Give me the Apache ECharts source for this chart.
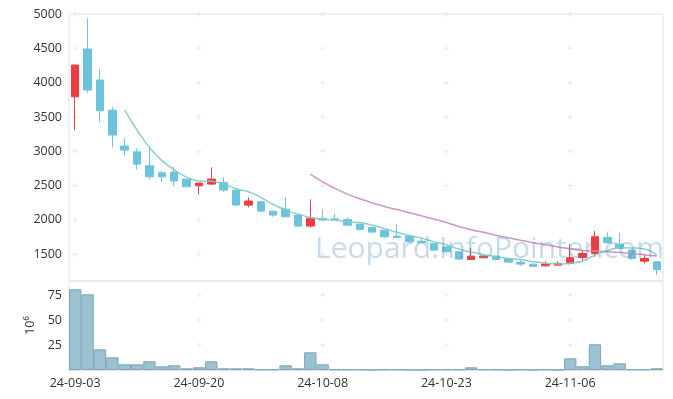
<!DOCTYPE html>
<html>
<head>
<meta charset="utf-8">
<script src="https://cdn.jsdelivr.net/npm/echarts@6/dist/echarts.min.js"></script>
<style>
  html, body { margin: 0; padding: 0; background: #fff; }
  #main { width: 673px; height: 399px; }
</style>
</head>
<body>
<div id="main"></div>
<script>
  // 日期
  var dates = ['24-09-03', '24-09-04', '24-09-05', '24-09-06', '24-09-09', '24-09-10', '24-09-11', '24-09-12',
    '24-09-13', '24-09-19', '24-09-20', '24-09-23', '24-09-24', '24-09-25', '24-09-26', '24-09-27',
    '24-09-30', '24-10-02', '24-10-04', '24-10-07', '24-10-08', '24-10-10', '24-10-11', '24-10-14',
    '24-10-15', '24-10-16', '24-10-17', '24-10-18', '24-10-21', '24-10-22', '24-10-23', '24-10-24',
    '24-10-25', '24-10-28', '24-10-29', '24-10-30', '24-10-31', '24-11-01', '24-11-04', '24-11-05',
    '24-11-06', '24-11-07', '24-11-08', '24-11-11', '24-11-12', '24-11-13', '24-11-14', '24-11-15'];

  // 开盘 / 收盘 / 最低 / 最高
  var opens = [3794, 4490, 4038, 3600, 3076, 2993, 2789, 2686, 2697, 2595, 2497, 2522, 2546, 2434, 2216, 2264,
    2128, 2157, 2070, 1910, 2022, 2016, 2007, 1939, 1890, 1851, 1764, 1764, 1691, 1657, 1608, 1535,
    1424, 1448, 1472, 1438, 1385, 1356, 1331, 1341, 1366, 1453, 1511, 1745, 1647, 1560, 1399, 1390];
  var closes = [4256, 3892, 3590, 3236, 3017, 2813, 2628, 2628, 2566, 2483, 2536, 2595, 2434, 2216, 2274, 2128,
    2070, 2045, 1910, 2026, 1997, 2002, 1924, 1862, 1822, 1754, 1745, 1681, 1672, 1560, 1535, 1429,
    1472, 1472, 1424, 1385, 1356, 1322, 1356, 1366, 1448, 1511, 1754, 1667, 1584, 1438, 1438, 1278];
  var lows = [3309, 3853, 3421, 3057, 2934, 2736, 2590, 2555, 2493, 2483, 2372, 2510, 2410, 2201, 2182, 2128,
    2045, 2045, 1900, 1890, 1990, 2000, 1915, 1862, 1822, 1740, 1745, 1681, 1665, 1560, 1535, 1420,
    1424, 1448, 1410, 1385, 1330, 1322, 1320, 1341, 1350, 1400, 1462, 1660, 1570, 1420, 1366, 1195];
  var highs = [4260, 4937, 4198, 3649, 3188, 3042, 3066, 2711, 2774, 2595, 2540, 2765, 2619, 2434, 2328, 2278,
    2128, 2328, 2070, 2299, 2153, 2085, 2036, 1939, 1890, 1851, 1939, 1764, 1745, 1657, 1620, 1535,
    1593, 1501, 1472, 1438, 1414, 1356, 1395, 1395, 1647, 1560, 1837, 1818, 1808, 1575, 1501, 1390];

  // 成交量 (10^6)
  var volumes = [80.7, 75.7, 20.7, 12.7, 5.7, 5.7, 8.7, 3.7, 4.7, 1.7, 2.7, 8.7, 1.7, 1.7, 1.7, 0.7,
    0.7, 4.7, 1.7, 17.7, 5.7, 0.7, 0.7, 0.7, 0.2, 0.7, 0.7, 0.2, 0.2, 0.7, 0.7, 0.7,
    2.7, 0.7, 0.7, 0.2, 0.7, 0.2, 0.7, 0.2, 11.7, 3.7, 25.7, 4.7, 6.7, 0.7, 0.7, 1.7];

  var priceTicks = [1500, 2000, 2500, 3000, 3500, 4000, 4500, 5000];
  var volumeTicks = [25, 50, 75];

  var candleData = [];
  for (var i = 0; i < dates.length; i++) {
    candleData.push([opens[i], closes[i], lows[i], highs[i]]);
  }

  function calcMA(n) {
    var res = [];
    for (var i = 0; i < closes.length; i++) {
      if (i < n - 1) { res.push('-'); continue; }
      var sum = 0;
      for (var j = 0; j < n; j++) sum += closes[i - j];
      res.push(+(sum / n).toFixed(1));
    }
    return res;
  }

  // 网格交叉点 "+"
  function crossPoints(ticks) {
    var pts = [];
    for (var i = 0; i < dates.length; i += 10) {
      for (var k = 0; k < ticks.length; k++) pts.push([dates[i], ticks[k]]);
    }
    return pts;
  }

  var font = 'Open Sans';
  var plus = 'path://M2,0L3,0L3,2L5,2L5,3L3,3L3,5L2,5L2,3L0,3L0,2L2,2Z';

  var chart = echarts.init(document.getElementById('main'));
  var option = {
    animation: false,
    backgroundColor: '#fff',
    grid: [
      { left: 69, right: 10, top: 14, height: 267, show: true, borderColor: '#e3e3e3', borderWidth: 1 },
      { left: 69, right: 10, top: 281, height: 89, show: true, borderColor: '#e3e3e3', borderWidth: 1 }
    ],
    xAxis: [
      {
        type: 'category', gridIndex: 0, data: dates,
        axisLine: { show: false }, axisTick: { show: false }, axisLabel: { show: false },
        splitLine: { show: false }
      },
      {
        type: 'category', gridIndex: 1, data: dates,
        axisLine: { show: true, lineStyle: { color: '#e3e3e3' } },
        axisTick: { show: false },
        axisLabel: { interval: 9, color: '#333', fontFamily: font, fontSize: 12.5, margin: 7 },
        splitLine: { show: false }
      }
    ],
    yAxis: [
      {
        type: 'value', gridIndex: 0, min: 1110, max: 5000, minInterval: 500, maxInterval: 500,
        axisLine: { show: false }, axisTick: { show: false },
        axisLabel: {
          showMinLabel: false, color: '#333', fontFamily: font, fontSize: 12.5, margin: 7,
          formatter: function (v) { return String(v); }
        },
        splitLine: { show: false }
      },
      {
        type: 'value', gridIndex: 1, min: 0, max: 89, interval: 25,
        name: '10⁶', nameLocation: 'middle', nameRotate: 90, nameGap: 22,
        nameTextStyle: { color: '#333', fontFamily: font, fontSize: 12.5 },
        axisLine: { show: false }, axisTick: { show: false },
        axisLabel: { showMinLabel: false, showMaxLabel: false, color: '#333', fontFamily: font, fontSize: 12.5, margin: 7 },
        splitLine: { show: false }
      }
    ],
    graphic: [{
      type: 'text', left: 315, top: 234, z: 100, silent: true,
      style: {
        text: 'Leopard.InfoPointer.com',
        font: '30px "Open Sans"',
        fill: 'rgba(80,140,190,0.32)'
      }
    }],
    series: [
      {
        type: 'scatter', xAxisIndex: 0, yAxisIndex: 0, data: crossPoints(priceTicks),
        symbol: plus, symbolSize: 5, silent: true, z: 0,
        itemStyle: { color: '#e2e2e2' }
      },
      {
        type: 'scatter', xAxisIndex: 1, yAxisIndex: 1, data: crossPoints(volumeTicks),
        symbol: plus, symbolSize: 5, silent: true, z: 0,
        itemStyle: { color: '#e2e2e2' }
      },
      {
        name: 'K', type: 'candlestick', xAxisIndex: 0, yAxisIndex: 0,
        data: candleData, barWidth: 8,
        itemStyle: {
          color: '#ef3b40', color0: '#6cc4dc',
          borderColor: '#ef3b40', borderColor0: '#6cc4dc', borderWidth: 1
        }
      },
      {
        name: 'MA5', type: 'line', xAxisIndex: 0, yAxisIndex: 0, data: calcMA(5),
        smooth: true, showSymbol: false, symbol: 'none',
        lineStyle: { color: '#80ccc0', width: 1.5, opacity: 0.9 }
      },
      {
        name: 'MA20', type: 'line', xAxisIndex: 0, yAxisIndex: 0, data: calcMA(20),
        smooth: true, showSymbol: false, symbol: 'none',
        lineStyle: { color: '#cc88c2', width: 1.5, opacity: 0.9 }
      },
      {
        name: 'Volume', type: 'bar', xAxisIndex: 1, yAxisIndex: 1, data: volumes,
        barCategoryGap: '0%',
        itemStyle: { color: '#9cc1cf', borderColor: '#7ba6ba', borderWidth: 1 }
      }
    ]
  };
  chart.setOption(option);
</script>
</body>
</html>
